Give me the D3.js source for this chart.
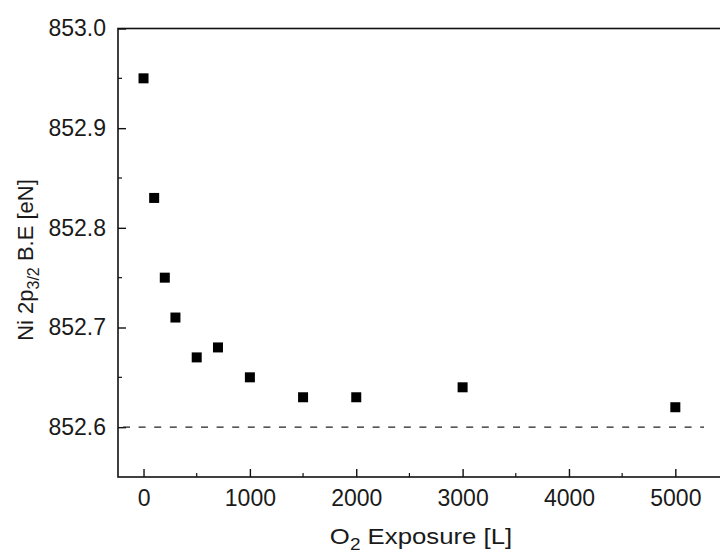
<!DOCTYPE html>
<html><head><meta charset="utf-8">
<script src="https://cdn.jsdelivr.net/npm/d3@7"></script>
<style>body{margin:0;background:#fff}svg{display:block}text{font-family:"Liberation Sans",Arial,sans-serif;fill:#1a1a1a}</style>
</head><body>
<script>
const exposure = [0, 100, 200, 300, 500, 700, 1000, 1500, 2000, 3000, 5000];
const bindingEnergy = [852.95, 852.83, 852.75, 852.71, 852.67, 852.68, 852.65, 852.63, 852.63, 852.64, 852.62];
const xTicks = [0, 1000, 2000, 3000, 4000, 5000];
const yTicks = [852.6, 852.7, 852.8, 852.9, 853.0];
const referenceLevel = 852.6;

(function () {
const W = 720, H = 556;
const pL = 118, pT = 28.5, pR = 723, pB = 477;
const svg = d3.select("body").append("svg").attr("width", W).attr("height", H);
const x = d3.scaleLinear().domain([-240, 5420]).range([pL, 720]);
const y = d3.scaleLinear().domain([852.55, 853.0]).range([pB, pT]);

// frame
svg.append("rect").attr("x", pL).attr("y", pT).attr("width", pR - pL).attr("height", pB - pT)
  .attr("fill", "none").attr("stroke", "#111").attr("stroke-width", 1.6);

// minor ticks
const xMinor = d3.range(500, 5500, 1000);
svg.append("g").selectAll("line").data(xMinor).join("line")
  .attr("x1", d => x(d)).attr("x2", d => x(d)).attr("y1", pB).attr("y2", pB - 4)
  .attr("stroke", "#111").attr("stroke-width", 1.2);
const yMinor = [852.65, 852.75, 852.85, 852.95];
svg.append("g").selectAll("line").data(yMinor).join("line")
  .attr("x1", pL).attr("x2", pL + 4).attr("y1", d => y(d)).attr("y2", d => y(d))
  .attr("stroke", "#111").attr("stroke-width", 1.2);

// axes with inward major ticks
const xAxis = svg.append("g").attr("transform", `translate(0,${pB})`)
  .call(d3.axisBottom(x).tickValues(xTicks).tickSize(-8).tickPadding(13).tickFormat(d3.format("d")));
xAxis.select(".domain").remove();
xAxis.selectAll("line").attr("stroke", "#111").attr("stroke-width", 1.4);
xAxis.selectAll("text").attr("font-size", 23).attr("fill", "#1a1a1a");

const yAxis = svg.append("g").attr("transform", `translate(${pL},0)`)
  .call(d3.axisLeft(y).tickValues(yTicks).tickSize(-8).tickPadding(12).tickFormat(d3.format(".1f")));
yAxis.select(".domain").remove();
yAxis.selectAll("line").attr("stroke", "#111").attr("stroke-width", 1.4);
yAxis.selectAll("text").attr("font-size", 23).attr("fill", "#1a1a1a");

// dashed reference line
svg.append("line").attr("x1", pL + 5).attr("x2", x(5270))
  .attr("y1", y(referenceLevel)).attr("y2", y(referenceLevel))
  .attr("stroke", "#222").attr("stroke-width", 1.2).attr("stroke-dasharray", "7,8.6");

// points
const s = 10;
svg.append("g").selectAll("rect").data(exposure.map((e, i) => [e, bindingEnergy[i]])).join("rect")
  .attr("x", d => x(d[0]) - s / 2).attr("y", d => y(d[1]) - s / 2)
  .attr("width", s).attr("height", s).attr("fill", "#000");

// axis titles
const xt = svg.append("text").attr("transform", "translate(421,544) scale(1.12,1)")
  .attr("text-anchor", "middle").attr("font-size", 23);
xt.append("tspan").text("O");
xt.append("tspan").attr("dy", 6).attr("font-size", 17).text("2");
xt.append("tspan").attr("dy", -6).text(" Exposure [L]");

const yt = svg.append("text").attr("transform", "translate(33,260) rotate(-90)").attr("text-anchor", "middle").attr("font-size", 22);
yt.append("tspan").text("Ni 2p");
yt.append("tspan").attr("dy", 6).attr("font-size", 16).text("3/2");
yt.append("tspan").attr("dy", -6).text(" B.E [eN]");
})();
</script>
</body></html>
